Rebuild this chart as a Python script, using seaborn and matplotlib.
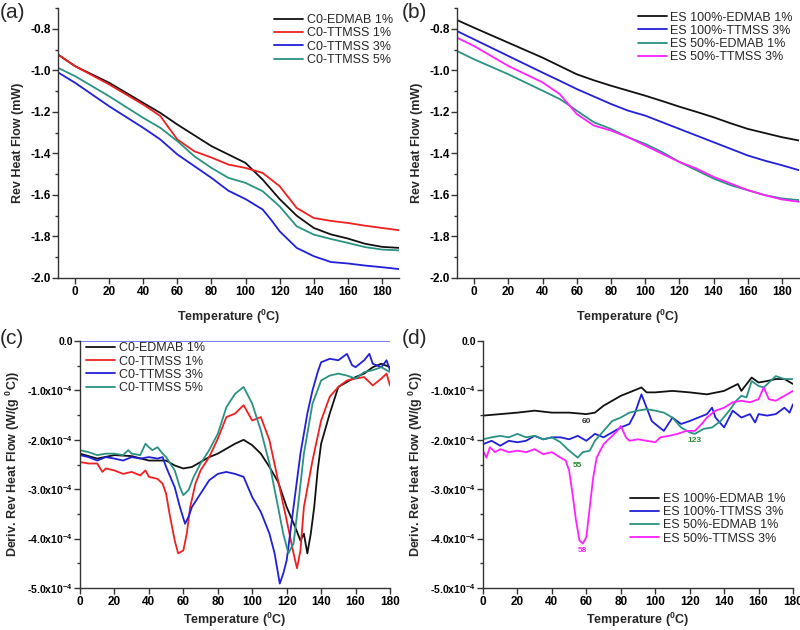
import numpy as np
import pandas as pd
import matplotlib
matplotlib.use("Agg")
import matplotlib.pyplot as plt
from matplotlib.ticker import MultipleLocator
import seaborn as sns

# ---------------- data ----------------
# (a) Rev heat flow, C0 series
a_T_black = [-10, 0, 20, 40, 50, 60, 80, 100, 110, 120, 130, 140, 150, 160, 170, 180, 190]
a_black = [-0.924, -0.98, -1.06, -1.157, -1.205, -1.261, -1.365, -1.446, -1.526, -1.62, -1.70, -1.759, -1.79, -1.81, -1.835, -1.85, -1.855]
a_T_red = [-10, 0, 20, 40, 50, 55, 60, 70, 80, 90, 100, 110, 120, 130, 140, 150, 160, 170, 180, 190]
a_red = [-0.924, -0.98, -1.068, -1.165, -1.22, -1.277, -1.333, -1.39, -1.42, -1.454, -1.47, -1.494, -1.558, -1.663, -1.711, -1.725, -1.735, -1.748, -1.759, -1.77]
a_T_blue = [-10, 0, 20, 40, 50, 60, 80, 90, 100, 110, 115, 120, 130, 140, 150, 160, 170, 180, 190]
a_blue = [-1.01, -1.06, -1.173, -1.277, -1.333, -1.405, -1.518, -1.58, -1.62, -1.67, -1.72, -1.775, -1.855, -1.895, -1.923, -1.93, -1.94, -1.948, -1.957]
a_T_teal = [-10, 0, 20, 40, 50, 60, 70, 80, 90, 100, 110, 120, 130, 140, 150, 160, 170, 180, 190]
a_teal = [-0.988, -1.028, -1.125, -1.229, -1.277, -1.341, -1.414, -1.47, -1.518, -1.542, -1.582, -1.655, -1.751, -1.791, -1.812, -1.831, -1.851, -1.863, -1.867]

# (b) Rev heat flow, ES series
b_T = [-10, 0, 20, 40, 50, 55, 60, 70, 80, 90, 100, 110, 120, 130, 140, 150, 160, 170, 180, 190]
b_black = [-0.758, -0.795, -0.867, -0.939, -0.979, -0.999, -1.019, -1.048, -1.074, -1.098, -1.122, -1.148, -1.175, -1.2, -1.226, -1.255, -1.282, -1.302, -1.322, -1.338]
b_blue = [-0.811, -0.851, -0.931, -1.011, -1.05, -1.07, -1.09, -1.126, -1.162, -1.194, -1.218, -1.25, -1.282, -1.314, -1.346, -1.378, -1.41, -1.435, -1.457, -1.481]
b_teal = [-0.907, -0.947, -1.019, -1.098, -1.138, -1.165, -1.194, -1.25, -1.282, -1.322, -1.354, -1.394, -1.441, -1.481, -1.521, -1.553, -1.577, -1.601, -1.617, -1.625]
b_magenta = [-0.843, -0.883, -0.979, -1.058, -1.114, -1.162, -1.21, -1.266, -1.29, -1.322, -1.362, -1.402, -1.441, -1.473, -1.513, -1.545, -1.577, -1.601, -1.622, -1.633]

# (c) Deriv. rev heat flow (x1e-4 W/(g C)), C0 series
c_T_black = [0, 10, 20, 30, 40, 50, 55, 60, 65, 70, 75, 80, 85, 90, 95, 100, 105, 110, 115, 120, 125, 128, 130, 132, 134, 136, 138, 140, 145, 150, 155, 160, 165, 170, 175, 180]
c_black = [-2.28, -2.38, -2.31, -2.33, -2.42, -2.42, -2.52, -2.58, -2.55, -2.45, -2.35, -2.28, -2.18, -2.08, -2.0, -2.11, -2.28, -2.55, -2.85, -3.36, -3.77, -4.04, -3.9, -4.3, -3.9, -3.36, -2.62, -2.08, -1.47, -0.93, -0.83, -0.73, -0.66, -0.53, -0.46, -0.53]
c_T_red = [0, 5, 10, 13, 15, 20, 25, 30, 35, 38, 40, 45, 48, 50, 52, 55, 57, 60, 62, 64, 67, 70, 75, 80, 85, 90, 95, 100, 105, 110, 115, 120, 124, 126, 128, 130, 135, 140, 145, 150, 155, 160, 165, 170, 175, 178, 180]
c_red = [-2.45, -2.48, -2.48, -2.65, -2.58, -2.62, -2.69, -2.65, -2.72, -2.62, -2.75, -2.79, -2.89, -3.09, -3.5, -4.04, -4.3, -4.24, -3.9, -3.36, -2.89, -2.62, -2.35, -1.98, -1.54, -1.47, -1.30, -1.61, -1.54, -2.01, -2.82, -3.63, -4.3, -4.6, -4.24, -3.36, -2.42, -1.61, -1.13, -0.93, -0.80, -0.76, -0.73, -0.90, -0.76, -0.66, -0.90]
c_T_blue = [0, 5, 10, 15, 20, 25, 30, 35, 40, 45, 48, 50, 55, 58, 61, 63, 65, 70, 75, 80, 85, 90, 95, 100, 105, 110, 113, 116, 118, 120, 124, 128, 132, 135, 138, 140, 145, 150, 155, 158, 160, 165, 168, 170, 175, 178, 180]
c_blue = [-2.31, -2.35, -2.42, -2.35, -2.38, -2.42, -2.35, -2.38, -2.35, -2.38, -2.35, -2.55, -2.96, -3.36, -3.70, -3.56, -3.36, -3.09, -2.82, -2.69, -2.65, -2.69, -2.75, -3.16, -3.46, -3.90, -4.3, -4.91, -4.71, -4.44, -3.36, -2.28, -1.47, -1.0, -0.63, -0.43, -0.36, -0.39, -0.26, -0.49, -0.53, -0.39, -0.26, -0.46, -0.53, -0.39, -0.59]
c_T_teal = [0, 5, 10, 15, 20, 25, 28, 30, 35, 38, 40, 42, 45, 48, 50, 55, 58, 60, 63, 66, 70, 75, 80, 85, 90, 95, 100, 105, 110, 115, 118, 121, 124, 127, 130, 135, 140, 145, 150, 155, 160, 165, 170, 175, 180]
c_teal = [-2.21, -2.25, -2.31, -2.28, -2.28, -2.31, -2.21, -2.28, -2.31, -2.08, -2.15, -2.21, -2.15, -2.28, -2.35, -2.62, -2.96, -3.12, -3.02, -2.75, -2.48, -2.21, -1.88, -1.34, -1.07, -0.93, -1.27, -1.81, -2.48, -3.36, -3.9, -4.3, -4.1, -3.22, -2.28, -1.27, -0.80, -0.70, -0.66, -0.70, -0.76, -0.63, -0.59, -0.53, -0.63]

# (d) Deriv. rev heat flow (x1e-4 W/(g C)), ES series
d_T_black = [0, 10, 20, 30, 40, 50, 60, 65, 70, 75, 80, 85, 92, 95, 100, 110, 120, 130, 140, 148, 150, 156, 160, 165, 170, 175, 180]
d_black = [-1.51, -1.48, -1.45, -1.41, -1.45, -1.45, -1.48, -1.45, -1.31, -1.21, -1.11, -1.04, -0.94, -1.04, -1.04, -1.01, -1.04, -1.08, -1.01, -0.87, -1.01, -0.74, -0.84, -0.81, -0.77, -0.77, -0.87]
d_T_blue = [0, 5, 10, 15, 20, 25, 30, 35, 40, 45, 50, 55, 60, 65, 70, 75, 80, 85, 88, 92, 95, 98, 100, 105, 110, 115, 120, 125, 130, 133, 135, 140, 145, 150, 155, 158, 160, 165, 170, 175, 178, 180]
d_blue = [-2.09, -2.02, -2.12, -2.02, -2.05, -2.02, -1.92, -1.99, -1.95, -1.95, -1.99, -1.92, -2.02, -1.88, -1.95, -1.85, -1.75, -1.68, -1.48, -1.08, -1.35, -1.62, -1.68, -1.82, -1.55, -1.68, -1.62, -1.55, -1.48, -1.35, -1.55, -1.75, -1.41, -1.55, -1.48, -1.65, -1.48, -1.51, -1.48, -1.35, -1.45, -1.28]
d_T_teal = [0, 5, 10, 15, 20, 25, 30, 35, 40, 45, 50, 55, 58, 62, 65, 70, 75, 80, 85, 90, 95, 100, 105, 110, 115, 120, 123, 128, 133, 138, 143, 147, 150, 153, 156, 160, 163, 167, 170, 175, 180]
d_teal = [-1.99, -1.95, -1.92, -1.95, -1.88, -1.95, -1.92, -1.99, -1.95, -2.05, -2.22, -2.36, -2.25, -2.22, -2.02, -1.82, -1.62, -1.55, -1.45, -1.41, -1.38, -1.41, -1.45, -1.55, -1.75, -1.85, -1.88, -1.78, -1.75, -1.62, -1.41, -1.21, -1.11, -1.14, -0.81, -0.91, -0.94, -0.81, -0.71, -0.77, -0.77]
d_T_mag = [0, 2, 4, 7, 10, 15, 20, 25, 30, 35, 40, 45, 48, 50, 52, 54, 56, 58, 60, 62, 64, 66, 70, 75, 78, 80, 83, 85, 90, 95, 100, 103, 108, 113, 118, 123, 127, 130, 135, 140, 145, 150, 155, 160, 163, 166, 170, 175, 180]
d_mag = [-2.22, -2.36, -2.15, -2.25, -2.19, -2.25, -2.22, -2.25, -2.19, -2.29, -2.25, -2.36, -2.42, -2.62, -3.10, -3.63, -4.04, -4.10, -3.97, -3.36, -2.76, -2.36, -2.09, -1.92, -1.82, -1.72, -1.95, -2.02, -1.99, -2.02, -2.05, -1.95, -1.92, -1.88, -1.82, -1.82, -1.68, -1.55, -1.41, -1.35, -1.24, -1.21, -1.24, -1.18, -0.94, -1.18, -1.21, -1.11, -1.01]

a_labels = ["C0-EDMAB 1%", "C0-TTMSS 1%", "C0-TTMSS 3%", "C0-TTMSS 5%"]
b_labels = ["ES 100%-EDMAB 1%", "ES 100%-TTMSS 3%", "ES 50%-EDMAB 1%", "ES 50%-TTMSS 3%"]
d_peaks_T = [60, 55, 123, 58]
d_peaks_label = ["60", "55", "123", "58"]
d_peaks_y = [-1.62, -2.52, -2.02, -4.25]

yticks_ab = [-2.0, -1.8, -1.6, -1.4, -1.2, -1.0, -0.8]
yticks_cd = [0, -1, -2, -3, -4, -5]
ytick_cd_labels = ["0.0", "-1.0x10$^{-4}$", "-2.0x10$^{-4}$", "-3.0x10$^{-4}$", "-4.0x10$^{-4}$", "-5.0x10$^{-4}$"]

# ---------------- style ----------------
sns.set_style("ticks")
plt.rcParams['font.family'] = ['Liberation Sans', 'DejaVu Sans']
plt.rcParams['mathtext.fontset'] = 'custom'
plt.rcParams['mathtext.rm'] = 'Liberation Sans'
plt.rcParams['mathtext.bf'] = 'Liberation Sans:bold'
plt.rcParams['mathtext.default'] = 'bf'

BLACK = '#111111'
RED = '#ee2020'
BLUE = '#2020d8'
TEAL = '#2a9282'
MAG = '#ff20ff'
pal_ac = [BLACK, RED, BLUE, TEAL]
pal_bd = [BLACK, BLUE, TEAL, MAG]


def long_df(pairs, labels):
    frames = []
    for (t, v), lab in zip(pairs, labels):
        frames.append(pd.DataFrame({"T": t, "y": v, "series": lab}))
    return pd.concat(frames, ignore_index=True)


fig = plt.figure(figsize=(8, 6.3), dpi=100)
W, H = 800, 630


def add_ax(l, r, top, bot):
    return fig.add_axes([l / W, 1 - bot / H, (r - l) / W, (bot - top) / H])


ax_a = add_ax(58, 399, 8, 278)
ax_b = add_ax(457, 799, 8, 278)
ax_c = add_ax(80, 390, 341, 588)
ax_d = add_ax(483, 793, 341, 588)


def style_ax(ax, ysize):
    sns.despine(ax=ax)
    for s in ['left', 'bottom']:
        ax.spines[s].set_color('#333333')
        ax.spines[s].set_linewidth(1.0)
    ax.tick_params(which='major', width=1.0, length=4, direction='out', colors='#333333',
                   labelcolor='black', pad=2)
    ax.tick_params(axis='x', labelsize=8.5)
    ax.tick_params(axis='y', labelsize=ysize, pad=1)
    ax.tick_params(which='minor', length=2.5, width=1.0, direction='out', colors='#333333')
    for lab in ax.get_xticklabels() + ax.get_yticklabels():
        lab.set_fontweight('bold')


# (a)
df_a = long_df([(a_T_black, a_black), (a_T_red, a_red), (a_T_blue, a_blue), (a_T_teal, a_teal)], a_labels)
sns.lineplot(data=df_a, x="T", y="y", hue="series", palette=pal_ac, ax=ax_a, linewidth=1.3, sort=False)
ax_a.set_xlim(-10, 190)
ax_a.set_ylim(-2.0, -0.7)
ax_a.set_xticks(range(0, 181, 20))
ax_a.set_yticks(yticks_ab)
ax_a.set_yticklabels([f"{v:.1f}" for v in yticks_ab])
ax_a.yaxis.set_minor_locator(MultipleLocator(0.1))

# (b)
df_b = long_df([(b_T, b_black), (b_T, b_blue), (b_T, b_teal), (b_T, b_magenta)], b_labels)
sns.lineplot(data=df_b, x="T", y="y", hue="series", palette=pal_bd, ax=ax_b, linewidth=1.3, sort=False)
ax_b.set_xlim(-10, 190)
ax_b.set_ylim(-2.0, -0.7)
ax_b.set_xticks(range(0, 181, 20))
ax_b.set_yticks(yticks_ab)
ax_b.set_yticklabels([f"{v:.1f}" for v in yticks_ab])
ax_b.yaxis.set_minor_locator(MultipleLocator(0.1))

# (c)
df_c = long_df([(c_T_black, np.array(c_black) * 1e-4), (c_T_red, np.array(c_red) * 1e-4),
                (c_T_blue, np.array(c_blue) * 1e-4), (c_T_teal, np.array(c_teal) * 1e-4)], a_labels)
ax_c.axhline(0, color='#7070ff', linewidth=1.3)
sns.lineplot(data=df_c, x="T", y="y", hue="series", palette=pal_ac, ax=ax_c, linewidth=1.3, sort=False)
ax_c.set_xlim(0, 180)
ax_c.set_ylim(-5e-4, 0)
ax_c.set_xticks(range(0, 181, 20))
ax_c.set_yticks(np.array(yticks_cd) * 1e-4)
ax_c.set_yticklabels(ytick_cd_labels)
ax_c.yaxis.set_minor_locator(MultipleLocator(0.5e-4))

# (d)
df_d = long_df([(d_T_black, np.array(d_black) * 1e-4), (d_T_blue, np.array(d_blue) * 1e-4),
                (d_T_teal, np.array(d_teal) * 1e-4), (d_T_mag, np.array(d_mag) * 1e-4)], b_labels)
sns.lineplot(data=df_d, x="T", y="y", hue="series", palette=pal_bd, ax=ax_d, linewidth=1.3, sort=False)
ax_d.set_xlim(0, 180)
ax_d.set_ylim(-5e-4, 0)
ax_d.set_xticks(range(0, 181, 20))
ax_d.set_yticks(np.array(yticks_cd) * 1e-4)
ax_d.set_yticklabels(ytick_cd_labels)
ax_d.yaxis.set_minor_locator(MultipleLocator(0.5e-4))
peak_cols = ['#333333', '#2a8a2a', '#2a8a2a', MAG]
for t, lab, yv, col in zip(d_peaks_T, d_peaks_label, d_peaks_y, peak_cols):
    ax_d.text(t, yv * 1e-4, lab, color=col, fontsize=6, fontweight='bold', ha='center', va='center')

for ax, ys, lp in [(ax_a, 8.5, 7), (ax_b, 8.5, 7), (ax_c, 7.5, 2), (ax_d, 7.5, 2)]:
    style_ax(ax, ys)
    ax.set_xlabel("Temperature ($^0$C)", fontsize=9, fontweight='bold', labelpad=lp)

ax_a.set_ylabel("Rev Heat Flow (mW)", fontsize=9, fontweight='bold', labelpad=5)
ax_b.set_ylabel("Rev Heat Flow (mW)", fontsize=9, fontweight='bold', labelpad=5)
ax_c.set_ylabel("Deriv. Rev Heat Flow (W/(g $^0$C))", fontsize=9, fontweight='bold', labelpad=4)
ax_d.set_ylabel("Deriv. Rev Heat Flow (W/(g $^0$C))", fontsize=9, fontweight='bold', labelpad=4)

leg_kw = dict(frameon=False, fontsize=9, handlelength=2.3, labelspacing=0.1, handletextpad=0.3, borderaxespad=0.1)
ax_a.legend(loc='upper right', bbox_to_anchor=(1.0, 1.0), **leg_kw)
ax_b.legend(loc='upper right', bbox_to_anchor=(1.0, 1.01), **leg_kw)
ax_c.legend(loc='upper left', bbox_to_anchor=(0.0, 1.02), **leg_kw)
ax_d.legend(loc='lower right', bbox_to_anchor=(0.995, 0.15), **leg_kw)

for lab, x, y in [("(a)", 0, 12), ("(b)", 402, 12), ("(c)", 0, 338), ("(d)", 402, 338)]:
    fig.text(x / W, 1 - y / H, lab, fontsize=15, ha='left', va='center')

fig.savefig("out.png", dpi=100)
